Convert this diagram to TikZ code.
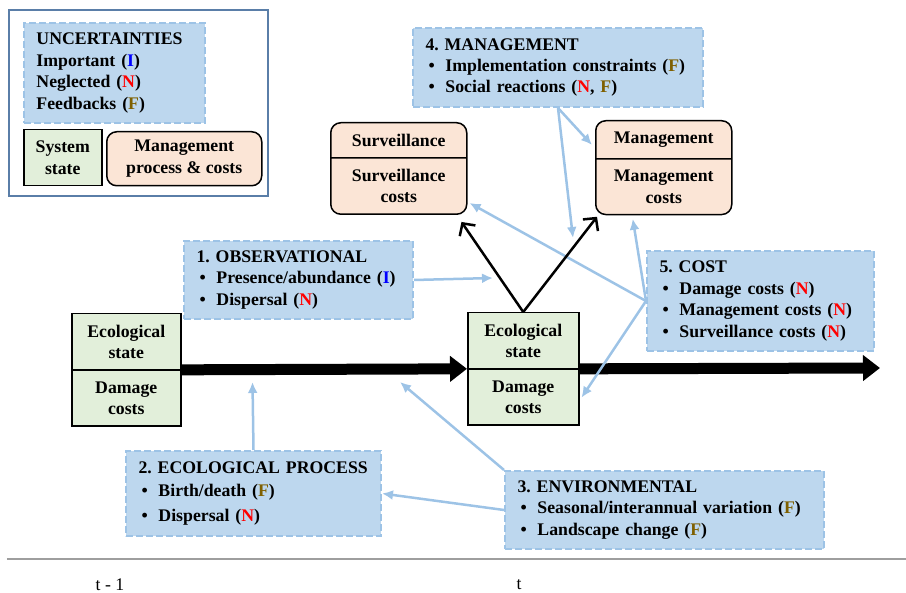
\documentclass[tikz,border=0pt]{standalone}
\usepackage{fontspec}
\setmainfont{Liberation Serif}
\usepackage{xcolor}
\usetikzlibrary{arrows.meta,shapes.multipart}

\definecolor{uncfill}{HTML}{BDD7EE}
\definecolor{uncline}{HTML}{9DC3E6}
\definecolor{statefill}{HTML}{E2EFDA}
\definecolor{mgmtfill}{HTML}{FBE5D6}
\definecolor{legline}{HTML}{5A7EA8}
\definecolor{fbcol}{HTML}{7F6000}

\frenchspacing
\newcommand{\uI}{\textcolor{blue}{I}}
\newcommand{\uN}{\textcolor{red}{N}}
\newcommand{\uF}{\textcolor{fbcol}{F}}
\newcommand{\bitem}[1]{\makebox[0.40cm][l]{\hspace{0.06cm}\textbullet}\mbox{#1}}

\tikzset{
  uncbox/.style={draw=uncline, fill=uncfill, line width=0.04cm,
    dash pattern=on 0.14cm off 0.06cm, anchor=north west, align=left,
    inner xsep=0.25cm, inner ysep=0pt},
  statebox/.style={rectangle split, rectangle split parts=2, draw=black,
    fill=statefill, line width=0.03cm, align=center, inner xsep=0.1cm,
    inner ysep=0.21cm, anchor=north west},
  costbox/.style={statebox, fill=mgmtfill, rounded corners=0.2cm},
  unclink/.style={draw=uncline, line width=0.05cm, -{Latex[length=0.22cm,width=0.2cm]}},
  ctrllink/.style={draw=black, line width=0.05cm, -{Straight Barb[length=0.18cm,width=0.38cm]}},
  timeflow/.style={draw=black, line width=0.22cm, -{Triangle[length=0.34cm,width=0.5cm]}},
}

\begin{document}
\begin{tikzpicture}[x=1cm,y=1cm, font=\fontsize{10.1}{12.2}\selectfont\bfseries]
  \useasboundingbox (0,0) rectangle (18.12,11.86);

  % Legend
  \draw[legline, line width=0.025cm] (0.18,7.94) rectangle (5.36,11.66);
  \node[uncbox, text width=3.12cm, minimum height=2.0cm] (unc) at (0.46,11.42)
    {UNCERTAINTIES\\Important (\uI)\\Neglected (\uN)\\Feedbacks (\uF)};
  \node[draw, fill=statefill, line width=0.03cm, minimum width=1.56cm, minimum height=1.12cm,
    align=center, anchor=north west] (legstate) at (0.46,9.28) {System\\state};
  \node[draw, fill=mgmtfill, line width=0.03cm, rounded corners=0.2cm, minimum width=3.10cm,
    minimum height=1.08cm, align=center, anchor=north west] (legcost) at (2.12,9.24)
    {Management\\process \& costs};

  % System states and management boxes
  \node[statebox, minimum width=2.18cm] (stateprev) at (1.42,5.60)
    {Ecological\\state \nodepart{two} Damage\\costs};
  \node[statebox, minimum width=2.22cm] (statenow) at (9.34,5.62)
    {Ecological\\state \nodepart{two} Damage\\costs};
  \node[costbox, minimum width=2.72cm] (surv) at (6.60,9.42)
    {Surveillance \nodepart{two} Surveillance\\costs};
  \node[costbox, minimum width=2.72cm] (mgmt) at (11.90,9.46)
    {Management \nodepart{two} Management\\costs};

  % Sources of uncertainty
  \node[uncbox, text width=4.08cm, minimum height=1.56cm] (obs) at (3.66,7.06)
    {\mbox{1. OBSERVATIONAL}\\\bitem{Presence/abundance (\uI)}\\\bitem{Dispersal (\uN)}};
  \node[uncbox, text width=4.60cm, minimum height=1.70cm] (ecoproc) at (2.50,2.86)
    {\mbox{2. ECOLOGICAL PROCESS}\\[0.04cm]\bitem{Birth/death (\uF)}\\[0.06cm]\bitem{Dispersal (\uN)}};
  \node[uncbox, text width=5.88cm, minimum height=1.56cm] (env) at (10.08,2.46)
    {\mbox{3. ENVIRONMENTAL}\\\bitem{Seasonal/interannual variation (\uF)}\\\bitem{Landscape change (\uF)}};
  \node[uncbox, text width=5.30cm, minimum height=1.58cm] (mgmtunc) at (8.24,11.32)
    {\mbox{4. MANAGEMENT}\\\bitem{Implementation constraints (\uF)}\\\bitem{Social reactions (\uN, \uF)}};
  \node[uncbox, text width=4.04cm, minimum height=2.0cm] (cost) at (12.92,6.86)
    {\mbox{5. COST}\\\bitem{Damage costs (\uN)}\\\bitem{Management costs (\uN)}\\\bitem{Surveillance costs (\uN)}};

  % Time flow
  \coordinate (tnext) at (17.60,4.50);
  \draw[timeflow] (stateprev.east) -- (statenow.west);
  \draw[timeflow] (statenow.east) -- (tnext);

  % Uncertainty links
  \coordinate (obsend) at (9.86,6.30);
  \coordinate (ecoend) at (5.05,4.22);
  \coordinate (envend) at (8.00,4.22);
  \coordinate (mgmtend) at (11.46,7.10);
  \draw[unclink] (obs.east) -- (obsend);
  \draw[unclink] (ecoproc.north) -- (ecoend);
  \draw[unclink] (env.north west) -- (envend);
  \draw[unclink] (env.west) -- (ecoproc.east);
  \draw[unclink] (mgmtunc.south) -- ([xshift=-0.06cm,yshift=-0.5cm]mgmt.north west);
  \draw[unclink] (mgmtunc.south) -- (mgmtend);
  \draw[unclink] (cost.west) -- ([xshift=0.04cm,yshift=0.24cm]surv.south east);
  \draw[unclink] (cost.west) -- ([xshift=-0.62cm,yshift=-0.07cm]mgmt.south);
  \draw[unclink] (cost.west) -- ([xshift=0.04cm,yshift=0.56cm]statenow.south east);

  % Management decisions
  \draw[ctrllink] (statenow.north) -- ([xshift=-0.12cm,yshift=-0.14cm]surv.south east);
  \draw[ctrllink] (statenow.north) -- ([xshift=0.04cm,yshift=-0.03cm]mgmt.south west);

  % Time axis
  \draw[black!38, line width=0.05cm] (0.14,0.68) -- (18.12,0.68);
  \node[font=\fontsize{10.1}{12.2}\selectfont] (tprev) at (2.20,0.16) {t - 1};
  \node[font=\fontsize{10.1}{12.2}\selectfont] (tnow) at (10.38,0.16) {t};
\end{tikzpicture}
\end{document}
